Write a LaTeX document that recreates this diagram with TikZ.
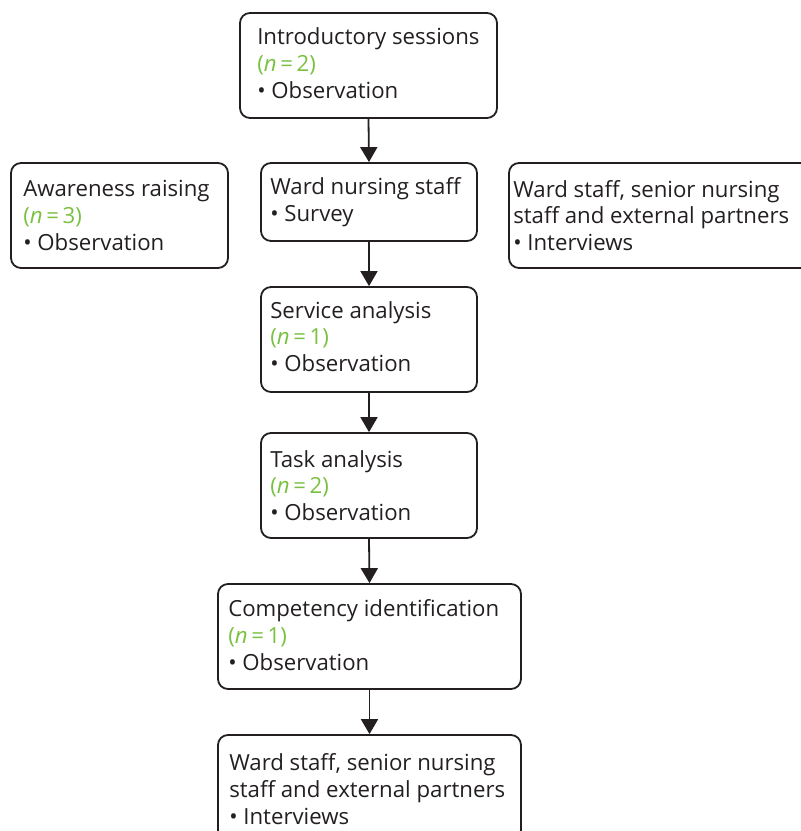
\documentclass[tikz,border=0pt]{standalone}
\usepackage{fontspec}
\setmainfont{Open Sans}
\usetikzlibrary{arrows.meta}
\definecolor{ngreen}{RGB}{122,193,66}
\definecolor{ink}{RGB}{35,31,32}
\newcommand{\nval}[1]{{\color{ngreen}(\textit{n}\,=\,#1)}}
\tikzset{
  frame/.style={draw=ink, rounded corners=10pt, line width=1.8pt, inner sep=0pt},
  boxtext/.style={anchor=west, inner sep=0pt, text=ink, align=left,
    font=\fontsize{22.2}{26.8}\selectfont},
  flowarrow/.style={draw=ink, line width=1.8pt, -{Triangle[length=15pt,width=17pt]}}
}
\begin{document}
\begin{tikzpicture}[x=1pt,y=-1pt]
  \useasboundingbox (0,0) rectangle (801,831);
  \clip (0,0) rectangle (801,831);

  % frames
  \node[frame, minimum width=257pt, minimum height=105pt] (intro) at (368.5,65.5) {};
  \node[frame, minimum width=217pt, minimum height=105pt] (aware) at (119.5,215.5) {};
  \node[frame, minimum width=216pt, minimum height=78pt] (survey) at (369,202) {};
  \node[frame, minimum width=320pt, minimum height=105pt] (interviewsA) at (669,215.5) {};
  \node[frame, minimum width=216pt, minimum height=105pt] (service) at (369,339.5) {};
  \node[frame, minimum width=216pt, minimum height=105pt] (task) at (369,485.5) {};
  \node[frame, minimum width=303pt, minimum height=105pt] (comp) at (369.5,636.5) {};
  \node[frame, minimum width=303pt, minimum height=105pt] (interviewsB) at (369.5,787.5) {};

  % texts, left-aligned inside the frames
  \node[boxtext, xshift=18pt, yshift=2.5pt] (intro-t) at (intro.west)
    {Introductory sessions\\ \nval{2}\\ • Observation};
  \node[boxtext, xshift=13pt] (aware-t) at (aware.west)
    {Awareness raising\\ \nval{3}\\ • Observation};
  \node[boxtext, xshift=10pt] (survey-t) at (survey.west)
    {Ward nursing staff\\ • Survey};
  \node[boxtext, xshift=5pt] (interviewsA-t) at (interviewsA.west)
    {Ward staff, senior nursing\\ staff and external partners\\ • Interviews};
  \node[boxtext, xshift=10pt, yshift=3pt] (service-t) at (service.west)
    {Service analysis\\ \nval{1}\\ • Observation};
  \node[boxtext, xshift=10pt] (task-t) at (task.west)
    {Task analysis\\ \nval{2}\\ • Observation};
  \node[boxtext, xshift=11pt, yshift=1.5pt] (comp-t) at (comp.west)
    {Competency identification\\ \nval{1}\\ • Observation};
  \node[boxtext, xshift=12pt, yshift=-1.5pt] (interviewsB-t) at (interviewsB.west)
    {Ward staff, senior nursing\\ staff and external partners\\ • Interviews};

  % connectors
  \draw[flowarrow] (intro.south) -- (survey.north);
  \draw[flowarrow] (survey.south) -- (service.north);
  \draw[flowarrow] (service.south) -- (task.north);
  \draw[flowarrow] (task.south) -- (comp.north);
  \draw[flowarrow] (comp.south) -- (interviewsB.north);
\end{tikzpicture}
\end{document}
